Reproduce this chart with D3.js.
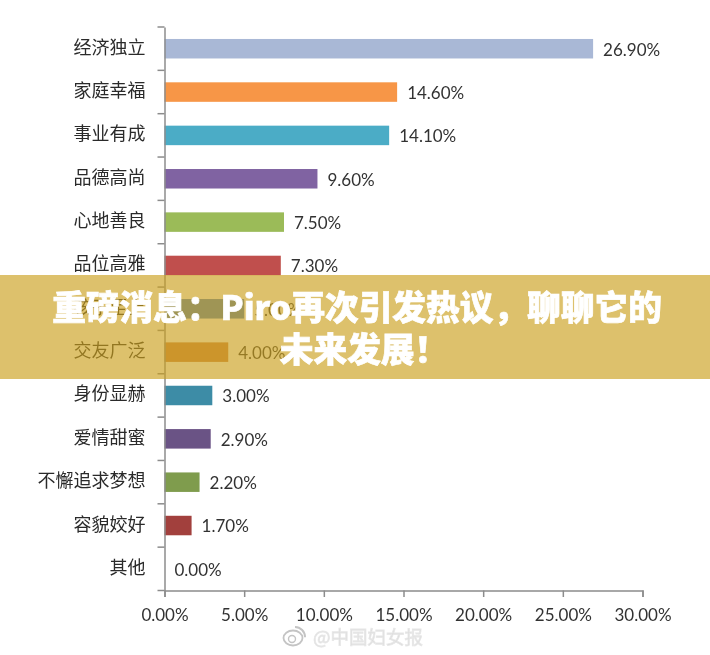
<!DOCTYPE html>
<html><head><meta charset="utf-8">
<script src="https://cdn.jsdelivr.net/npm/d3@7"></script>
<style>html,body{margin:0;padding:0;background:#fff}svg{display:block}</style>
</head><body><svg id="c" width="710" height="655"></svg>
<script>
const categories=["经济独立","家庭幸福","事业有成","品德高尚","心地善良","品位高雅","孩子至上","交友广泛","身份显赫","爱情甜蜜","不懈追求梦想","容貌姣好","其他"];
const values=[26.9,14.6,14.1,9.6,7.5,7.3,5.0,4.0,3.0,2.9,2.2,1.7,0];
const colors=["#a9b8d6","#f79646","#4bacc6","#8064a2","#9bbb59","#c0504d","#4f81bd","#cd8244","#3d8ca6","#6a5285","#7f9c4e","#a2413e","#ccc"];
const tickVals=[0,5,10,15,20,25,30];
const bannerLines=["重磅消息：Piro再次引发热议，聊聊它的","未来发展！"];
const fontCJK='"Noto Sans CJK SC","Noto Sans",sans-serif';
const fontNum="Lato,'Open Sans',sans-serif";
const svg=d3.select("#c");
const defs=svg.append("defs");
defs.append("filter").attr("id","soft").append("feGaussianBlur").attr("stdDeviation",0.35);
defs.append("filter").attr("id","softer").append("feGaussianBlur").attr("stdDeviation",0.6);
const x=d3.scaleLinear().domain([0,30]).range([164.5,642.5]);
const y=d3.scaleBand().domain(categories).range([27,590.5]);
const g=svg.append("g").attr("filter","url(#soft)");
g.selectAll("rect.b").data(values).join("rect").attr("class","b")
 .attr("x",x(0)).attr("y",(d,i)=>y(categories[i])+y.bandwidth()/2-9.7)
 .attr("width",d=>x(d)-x(0)).attr("height",19.5).attr("fill",(d,i)=>colors[i]);
const ya=d3.axisLeft(y).tickSize(0).tickFormat(d=>d);
const yg=g.append("g").attr("transform",`translate(${x(0)},0)`).call(ya);
yg.select(".domain").attr("stroke","#8c8c8c").attr("stroke-width",1.5);
yg.selectAll("text").attr("font-family",fontCJK).attr("font-size",18).attr("fill","#2a2a2a").attr("x",-19).attr("dy","0.28em");
const edges=d3.range(categories.length+1).map(i=>27+i*y.step());
g.selectAll("line.t").data(edges).join("line").attr("class","t").attr("x1",x(0)-7).attr("x2",x(0)).attr("y1",d=>d).attr("y2",d=>d).attr("stroke","#8c8c8c").attr("stroke-width",1.5);
const xa=d3.axisBottom(x).tickValues(tickVals).tickSize(6.5).tickFormat(d=>d.toFixed(2)+"%");
const xg=g.append("g").attr("transform","translate(0,590.5)").call(xa);
xg.selectAll("path,line").attr("stroke","#8c8c8c").attr("stroke-width",1.5);
xg.selectAll("text").attr("font-family",fontNum).attr("font-size",17).attr("fill","#333").attr("dy",0).attr("y",30.5);
g.selectAll("text.v").data(values).join("text").attr("class","v")
 .attr("x",d=>x(d)+10).attr("y",(d,i)=>y(categories[i])+y.bandwidth()/2+7)
 .attr("font-family",fontNum).attr("font-size",17).attr("fill","#333").text(d=>d.toFixed(2)+"%");
const wm=svg.append("g").attr("filter","url(#softer)");
wm.append("ellipse").attr("cx",293).attr("cy",638).attr("rx",9.5).attr("ry",7.5).attr("fill","none").attr("stroke","#c4c4c4").attr("stroke-width",1.8);
wm.append("circle").attr("cx",292).attr("cy",639).attr("r",3.5).attr("fill","none").attr("stroke","#c4c4c4").attr("stroke-width",1.4);
wm.append("path").attr("d",d3.arc()({innerRadius:9,outerRadius:11,startAngle:0,endAngle:1.6})).attr("transform","translate(295,637)").attr("fill","#c4c4c4");
wm.append("text").attr("x",313).attr("y",644).attr("font-family",fontCJK).attr("font-size",18.5).attr("fill","#dcdcdc").attr("stroke","#e8e8e8").attr("stroke-width",0.8).text("@中国妇女报");
svg.append("rect").attr("x",0).attr("y",275).attr("width",710).attr("height",104).attr("fill","rgb(203,160,29)").attr("fill-opacity",.65);
const bannerX=[357,364];
svg.selectAll("text.h").data(bannerLines).join("text").attr("class","h").attr("x",(d,i)=>bannerX[i]).attr("y",(d,i)=>320+i*42)
 .attr("text-anchor","middle").attr("font-family",fontCJK).attr("font-weight",900).attr("font-size",33.7).attr("fill","#fff").attr("stroke","#fff").attr("stroke-width",0.7).text(d=>d);
</script></body></html>
